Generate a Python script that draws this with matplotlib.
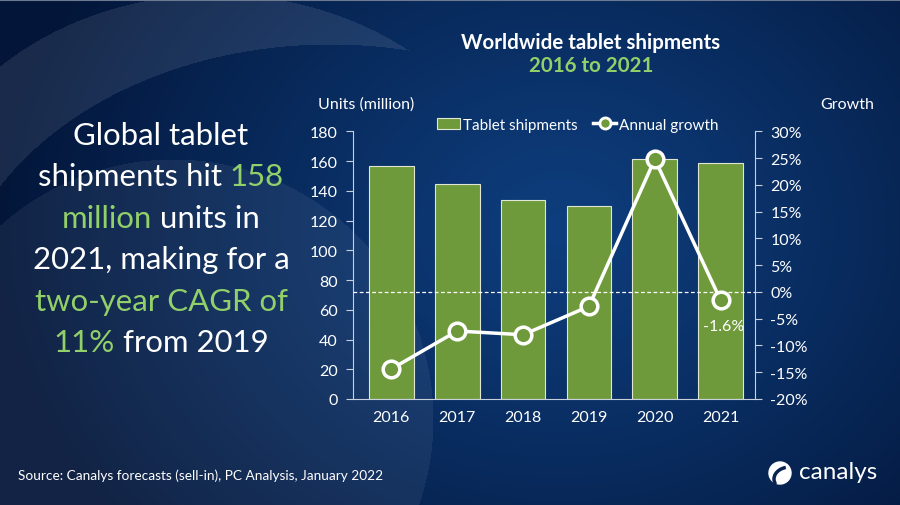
import numpy as np
import matplotlib
matplotlib.use("Agg")
import matplotlib.pyplot as plt
from matplotlib.lines import Line2D
from matplotlib.patches import Patch, Circle, Arc

plt.rcParams['font.family'] = ['Lato', 'DejaVu Sans']

years = ['2016', '2017', '2018', '2019', '2020', '2021']
shipments = [156.7, 144.6, 133.6, 129.6, 161.2, 158.5]  # units (million)
growth = [-14.4, -7.3, -8.0, -2.7, 24.8, -1.6]  # annual growth, %
units_ticks = [0, 20, 40, 60, 80, 100, 120, 140, 160, 180]
growth_ticks = [-20, -15, -10, -5, 0, 5, 10, 15, 20, 25, 30]

green = '#6f9a3c'
light_green = '#92d06a'
W, H = 900, 506

fig = plt.figure(figsize=(9, 5.06), dpi=100)

# background: radial navy gradient with lighter swooshes
yy, xx = np.mgrid[0:H, 0:W].astype(float)
d = np.sqrt((xx - 560) ** 2 + ((yy - 230) * 1.2) ** 2) / 560
d = np.clip(d, 0, 1)
c0 = np.array([14, 62, 126]) / 255
c1 = np.array([3, 22, 58]) / 255
img = c0 + (c1 - c0) * d[..., None] ** 1.1
outer = ((xx - 215) / 314) ** 2 + ((yy - 260) / 265) ** 2 < 1
inner = ((xx - 330) / 382) ** 2 + ((yy - 330) / 285) ** 2 < 1
crescent = outer & ~inner
lower = (xx - 173) ** 2 + (yy - 420) ** 2 < 260 ** 2
for m, a in [(crescent, 0.09), (lower, 0.06)]:
    img[m] = img[m] * (1 - a) + a
bg = fig.add_axes([0, 0, 1, 1], zorder=-10)
bg.imshow(img, extent=[0, W, H, 0], aspect='auto')
bg.plot([0, W], [0.6, 0.6], color='#6b7a90', lw=1.5)
bg.set_xlim(0, W)
bg.set_ylim(H, 0)
bg.axis('off')

# main chart
ax = fig.add_axes([353 / W, 1 - 400 / H, (755 - 353) / W, (400 - 132.3) / H])
ax.patch.set_alpha(0)
x = np.arange(len(years))
ax.bar(x, shipments, width=0.68, color=green, edgecolor='#dfe7d2', linewidth=0.8, zorder=2)
ax.set_ylim(0, 180)
ax.set_xlim(-0.58, 5.52)
ax.set_yticks(units_ticks)
ax.set_xticks(x)
ax.set_xticklabels(years)

ax2 = ax.twinx()
ax2.set_ylim(-20, 30)
ax2.set_yticks(growth_ticks)
ax2.set_yticklabels([f'{t}%' for t in growth_ticks])
ax2.axhline(0, color='white', lw=0.9, ls=(0, (3, 2)), zorder=1)
ax2.plot(x, growth, color='white', lw=2.5, marker='o', markersize=12,
         markerfacecolor=green, markeredgecolor='white', markeredgewidth=2.5, zorder=3)
ax2.text(x[-1] + 0.05, growth[-1] - 4.7, f'{growth[-1]}%', color='white', fontsize=11.5,
         ha='center', va='center')

for a in (ax, ax2):
    for s in a.spines.values():
        s.set_visible(False)
    a.tick_params(colors='white', labelsize=11.5, length=5, width=0.8, color='#c8d0dc')
    a.tick_params(axis='x', length=0, pad=8)
ax.spines['left'].set_visible(True)
ax.spines['bottom'].set_visible(True)
ax.spines['left'].set_color('#c8d0dc')
ax.spines['bottom'].set_color('#c8d0dc')
ax2.spines['right'].set_visible(True)
ax2.spines['right'].set_color('#c8d0dc')
ax.tick_params(axis='y', pad=6)
ax2.tick_params(axis='y', pad=6)

handles = [Patch(facecolor=green, edgecolor='#dfe7d2', linewidth=0.8, label='Tablet shipments'),
           Line2D([0], [0], color='white', lw=2.5, marker='o', markersize=8,
                  markerfacecolor=green, markeredgecolor='white', markeredgewidth=2, label='Annual growth')]
leg = ax2.legend(handles=handles, loc='upper center', bbox_to_anchor=(0.56, 1.085), ncol=2,
                 frameon=False, fontsize=11, handlelength=1.5, handletextpad=0.2,
                 columnspacing=1.0, borderaxespad=0.2)
for t in leg.get_texts():
    t.set_color('white')

fig.text(318 / W, 1 - 105 / H, 'Units (million)', color='white', fontsize=11.5, va='center')
fig.text(847 / W, 1 - 105 / H, 'Growth', color='white', fontsize=11.5, va='center', ha='center')

# titles
fig.text(591 / W, 1 - 43 / H, 'Worldwide tablet shipments', color='white', fontsize=14.8,
         fontweight='bold', ha='center', va='center')
fig.text(591 / W, 1 - 66 / H, '2016 to 2021', color=light_green, fontsize=14.8,
         fontweight='bold', ha='center', va='center')

# headline text with mixed colours
headline = [
    [('Global tablet', 'white')],
    [('shipments hit ', 'white'), ('158', light_green)],
    [('million', light_green), (' units in', 'white')],
    [('2021, making for a', 'white')],
    [('two-year CAGR of', light_green)],
    [('11%', light_green), (' from 2019', 'white')],
]
renderer = fig.canvas.get_renderer()
cx = 161
for i, parts in enumerate(headline):
    y = 1 - (136 + i * 41.5) / H
    texts = [fig.text(0, y, s, color=c, fontsize=22.4, va='center') for s, c in parts]
    widths = [t.get_window_extent(renderer).width for t in texts]
    start = cx - sum(widths) / 2
    for t, w in zip(texts, widths):
        t.set_x(start / W)
        start += w

fig.text(18 / W, 1 - 476 / H, 'Source: Canalys forecasts (sell-in), PC Analysis, January 2022',
         color='white', fontsize=9.8, va='center')

# canalys logo
bg.add_patch(Circle((780, 474), 11, color='white'))
bg.add_patch(Arc((790, 480), 32, 24, theta1=160, theta2=250, color='#0a2450', lw=2.5))
bg.text(799, 473, 'canalys', color='white', fontsize=17.5, va='center', ha='left')

fig.savefig('out.png', dpi=100)
